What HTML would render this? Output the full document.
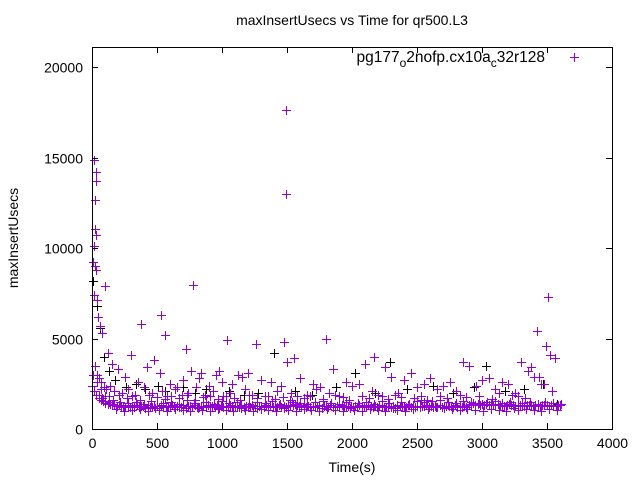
<!DOCTYPE html>
<html><head><meta charset="utf-8">
<style>
body{margin:0;background:#fff;}
svg{display:block;font-family:"Liberation Sans",sans-serif;}
</style></head>
<body>
<svg id="chart" width="640" height="480" viewBox="0 0 640 480">
<rect x="0" y="0" width="640" height="480" fill="#fff"/>
<g id="marks"></g>
<g id="axes"></g>
</svg>
<script>
const xTicks=[0,500,1000,1500,2000,2500,3000,3500,4000];
const yTicks=[0,5000,10000,15000,20000];
const bandValues=[2400,2100,1900,1700,1600,1550,1450,1400,1380,1350,1300,1260,1320,1240,1290,1200,1310,1230,1270,1190,1330,1220,1280,1250,1180,1300,1240,1210,1290,1260,
1170,1320,1230,1280,1200,1250,1310,1190,1270,1240,1220,1300,1180,1260,1290,1210,1330,1240,1200,1280,1250,1190,1310,1230,1270,1220,1300,1180,1260,1240,
1290,1210,1320,1250,1200,1280,1230,1310,1190,1270,1240,1220,1300,1260,1180,1290,1250,1210,1330,1230,1280,1200,1270,1240,1310,1190,1260,1220,1300,1250,
1350,1400,1320,1280,1240,1300,1210,1270,1230,1290,1200,1260,1310,1180,1250,1280,1220,1300,1240,1190,1270,1230,1320,1250,1210,1290,1260,1200,1280,1240,
1300,1220,1270,1190,1310,1250,1230,1280,1210,1260,1300,1240,1200,1290,1230,1270,1180,1320,1250,1220,1280,1240,1300,1210,1260,1190,1290,1230,1270,1250,
1310,1220,1280,1200,1260,1240,1300,1230,1190,1270,1250,1290,1210,1330,1240,1280,1200,1260,1230,1300,1380,1420,1350,1400,1330,1380,1300,1360,1320,1390,
1340,1300,1370,1310,1350,1280,1330,1360,1300,1340,1290,1320,1350,1310,1280,1340,1300,1330,1290,1350,1310,1270,1320,1300,1340,1290,1310,1330,1280,1300,1320];
const band2Values=[3000,2600,2200,1800,1500,1400,1100,1500,1000,1450,1050,1500,1100,1400,1000,1550,1150,1050,1450,1000,1500,1100,1400,1050,1600,1000,1450,1150,1050,1500,
1000,1400,1100,1550,1050,1450,1000,1500,1150,1050,1400,1000,1500,1100,1450,1050,1550,1000,1400,1150,1050,1500,1000,1450,1100,1400,1050,1500,1000,1550,
1100,1450,1050,1400,1000,1500,1150,1050,1450,1000,1500,1100,1400,1050,1550,1000,1450,1150,1050,1500,1000,1400,1100,1550,1600,1500,1100,1550,1200,1600,
1150,1500,1100,1450,1050,1550,1100,1500,1050,1450,1000,1500,1100,1550,1050,1450,1000,1500,1150,1050,1450,1100,1500,1050,1400,1000,1500,1100,1450,1050,1400];
const spikeTimes=[15,30,30,23,23,30,15,8,23,30,15,38,100,777,1492,1492,3508,3423,3492,530,377,565,1040,1260,2170,1800,1480,1500,720,840,980,1120,1550,
45,60,80,120,150,200,250,300,350,420,480,520,600,650,700,760,820,900,950,1000,1080,1150,1200,1300,1380,1450,1600,1700,1750,1850,1950,2050,2100,2250,2300,2400,2450,2550,2600,2700,2750,2850,2900,3000,3050,3150,3200,3300,3350,3400,3450,3520,3560,
20,35,50,70,90,110,140,170,230,280,330,400,460,540,580,640,690,740,800,870,930,1010,1060,1180,1230,1330,1420,1530,1650,1720,1820,1900,2000,2150,2200,2350,2500,2650,2800,2950,3100,3250,3380,3440,3480,3540,
55,75,130,160,210,270,310,370,440,500,560,610,670,730,790,850,910,970,1030,1090,1140,1210,1270,1350,1410,1470,1520,1580,1630,1680,1780,1870,1930,1980,2080,2130,2230,2280,2330,2380,2480,2530,2580,2680,2730,2830,2880,2980,3080,3130,3230,3280,3330,3420,3460,3500,3570];
const spikeValues=[14860,14200,13700,12650,11050,10700,10100,9200,9000,8800,7400,7100,7900,7960,17600,13000,7300,5400,4600,6300,5800,5200,4900,4700,4000,5000,4800,3700,4400,3100,3200,3000,3900,
6200,5700,5300,4200,3600,3300,2900,4100,2600,3400,3800,3100,2500,2300,2700,3200,2800,2400,3000,2600,2500,2900,3100,2700,2600,2400,2800,2500,2300,3300,2600,2500,3600,3400,2900,2700,3100,2500,2800,2400,2600,3700,3500,2700,2800,2600,2500,3700,3200,2900,2500,
4100,3900,3500,3000,2800,2600,2300,2200,2400,2100,2000,2200,1900,2300,2000,2100,1800,2200,1900,2000,2300,1900,2100,1800,2000,2200,1900,1800,2100,2000,1900,2200,2000,1800,2400,2100,1900,2000,2300,2200,2100,2400,2200,2000,
3400,2900,2500,2100,1900,1700,1800,1600,1900,1700,1800,1600,1900,1750,1650,1800,1700,1900,1600,1750,1850,1650,1800,1700,1600,1900,1700,1800,1650,1750,1600,1850,1700,1800,1650,1900,1750,1600,1850,1700,1800,1650,1900,1750,1700,1800,1600,1850,1700,1900,1750,1800,1650,2000,1900,1800,1700];
const blackTimes=[10,40,65,95,130,180,260,340,410,510,560,700,790,880,1050,1170,1280,1400,1560,1690,1880,2020,2180,2290,2420,2620,2780,2940,3030,3180,3320,3470,3580];
const blackValues=[8200,6800,5600,4000,3200,2700,2300,2500,2200,2400,2100,2300,2000,2200,2100,1900,2000,4200,2100,1900,2300,3100,2000,3700,2200,2400,2000,2300,3500,2100,2200,2500,1400];

const X0=92,X1=612,Y0=429,Y1=47;
const xs=v=>X0+v/4000*(X1-X0);
const ys=v=>Y0-v/20000*362;
const NS="http://www.w3.org/2000/svg";
const marks=document.getElementById('marks');
const axes=document.getElementById('axes');
function plus(x,y,c,name){
  x=Math.round(x)+0.5;y=Math.round(y)+0.5;
  const p=document.createElementNS(NS,'path');
  p.setAttribute('d',`M${x-4.5},${y}h9M${x},${y-4.5}v9`);
  p.setAttribute('stroke',c);p.setAttribute('stroke-width','1');p.setAttribute('fill','none');
  p.setAttribute('shape-rendering','crispEdges');
  
  
  marks.appendChild(p);
}
const bandStep=3600/(bandValues.length-1);
const band2Step=3600/(band2Values.length-1);
blackTimes.forEach((t,i)=>plus(xs(t),ys(blackValues[i]),'#000','black-point'));
bandValues.forEach((v,i)=>plus(xs(i*bandStep),ys(v),'#9400d3','band-point'));
band2Values.forEach((v,i)=>plus(xs(i*band2Step+7),ys(v),'#9400d3','band-point'));
spikeTimes.forEach((t,i)=>plus(xs(t),ys(spikeValues[i]),'#9400d3','spike-point'));

function el(tag,attrs,text){const e=document.createElementNS(NS,tag);for(const k in attrs)e.setAttribute(k,attrs[k]);if(text!==undefined)e.textContent=text;axes.appendChild(e);return e;}
const frame=el('rect',{x:X0+0.5,y:Y1+0.5,width:X1-X0,height:Y0-Y1,fill:'none',stroke:'#000','stroke-width':1});


xTicks.forEach(t=>{
  const x=Math.round(xs(t))+0.5;
  const l=el('path',{d:`M${x},${Y0}v-6M${x},${Y1}v6`,stroke:'#000'});
  
  
  const tx=el('text',{x:x,y:Y0+19,'text-anchor':'middle','font-size':14},String(t));
  
  
});
yTicks.forEach(t=>{
  const y=Math.round(ys(t))+0.5;
  const l=el('path',{d:`M${X0},${y}h6M${X1},${y}h-6`,stroke:'#000'});
  
  
  const tx=el('text',{x:X0-9,y:y+5,'text-anchor':'end','font-size':14},String(t));
  
  
});
const title=el('text',{x:352,y:25,'text-anchor':'middle','font-size':14},'maxInsertUsecs vs Time for qr500.L3');


const xl=el('text',{x:352,y:472,'text-anchor':'middle','font-size':14},'Time(s)');


const yl=el('text',{x:0,y:0,'text-anchor':'middle','font-size':14,transform:'translate(18,238) rotate(-90)'},'maxInsertUsecs');


const lg=document.createElementNS(NS,'text');
lg.setAttribute('x',545);lg.setAttribute('y',62);lg.setAttribute('text-anchor','end');lg.setAttribute('font-size',15.5);
lg.innerHTML='pg177<tspan dy="5" font-size="12">o</tspan><tspan dy="-5">2nofp.cx10a</tspan><tspan dy="5" font-size="12">c</tspan><tspan dy="-5">32r128</tspan>';


axes.appendChild(lg);
const lm=el('path',{d:'M570,57.5h9M574.5,53v9',stroke:'#9400d3'});


</script>
</body></html>
